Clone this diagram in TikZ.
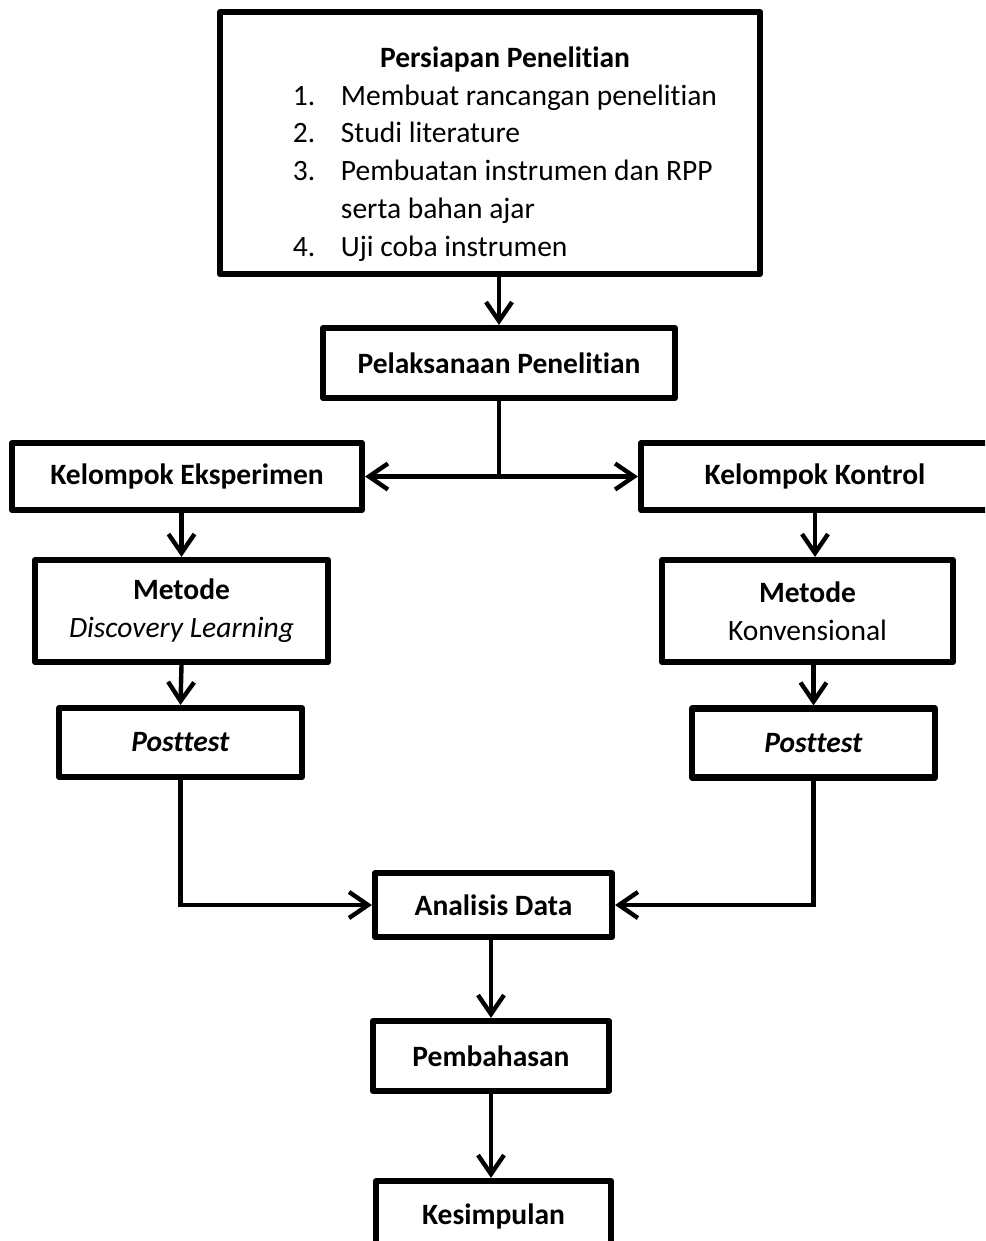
\documentclass[tikz,border=0pt]{standalone}
\usepackage{fontspec}
\setmainfont{Carlito}[Ligatures=NoCommon]
\usetikzlibrary{arrows.meta}
\begin{document}
\begin{tikzpicture}[x=0.02cm,y=-0.02cm,
    >={Straight Barb[length=0.38cm,width=0.52cm]},
    box/.style={draw,line width=3.5pt,line join=round,align=center,inner sep=0pt,
        font=\fontsize{16.8}{21.5}\selectfont},
    link/.style={line width=2.5pt}]
    \useasboundingbox (0,0) rectangle (985,1241);
    \clip (0,0) rectangle (985,1241);
    % tahap persiapan
    \node[box,minimum width=10.8cm,minimum height=5.24cm] (prep) at (490,143) {%
        \begin{tabular}{@{\hspace{0.6cm}}p{0.96cm}@{}l@{}}
            \multicolumn{2}{@{\hspace{0.6cm}}c@{}}{\rule{0pt}{0.98cm}\textbf{Persiapan Penelitian}}\\
            1. & Membuat rancangan penelitian\\
            2. & Studi literature\\
            3. & Pembuatan instrumen dan RPP\\
               & serta bahan ajar\\
            4. & Uji coba instrumen
        \end{tabular}};
    \node[box,minimum width=7.04cm,minimum height=1.4cm] (pel) at (499,363) {\textbf{Pelaksanaan Penelitian}};
    % dua kelompok
    \node[box,minimum width=7.0cm,minimum height=1.34cm] (eksp) at (187,476.5) {\textbf{Kelompok Eksperimen}};
    \node[box,minimum width=6.96cm,minimum height=1.34cm] (kont) at (815,476.5) {\textbf{Kelompok Kontrol}};
    \node[box,minimum width=5.86cm,minimum height=2.04cm] (met1) at (181.5,611) {\textbf{Metode}\\\textit{Discovery Learning}};
    \node[box,minimum width=5.82cm,minimum height=2.04cm] (met2) at (807.5,611) {\textbf{Metode}\\Konvensional};
    \node[box,minimum width=4.86cm,minimum height=1.38cm] (post1) at (180.5,742.5) {\textbf{\textit{Posttest}}};
    \node[box,minimum width=4.86cm,minimum height=1.38cm] (post2) at (813.5,743) {\textbf{\textit{Posttest}}};
    % akhir
    \node[box,minimum width=4.74cm,minimum height=1.28cm] (anal) at (493.5,905) {\textbf{Analisis Data}};
    \node[box,minimum width=4.72cm,minimum height=1.4cm] (pemb) at (491,1056) {\textbf{Pembahasan}};
    \node[box,minimum width=4.7cm,minimum height=1.42cm] (kes) at (493.5,1216.5) {\textbf{Kesimpulan}};

    \draw[link,->] (prep.south -| pel.north) -- (pel.north);
    \draw[link,->] (pel.south) |- (eksp.east);
    \draw[link,->] (pel.south) |- (kont.west);
    \draw[link,->] (eksp.south -| met1.north) -- (met1.north);
    \draw[link,->] (kont.south) -- (kont.south |- met2.north);
    \draw[link,->] (met1.south) -- (post1.north);
    \draw[link,->] (met2.south -| post2.north) -- (post2.north);
    \draw[link,->] (post1.south) |- (anal.west);
    \draw[link,->] (post2.south) |- (anal.east);
    \draw[link,->] (anal.south -| pemb.north) -- (pemb.north);
    \draw[link,->] (pemb.south) -- (pemb.south |- kes.north);
\end{tikzpicture}
\end{document}
